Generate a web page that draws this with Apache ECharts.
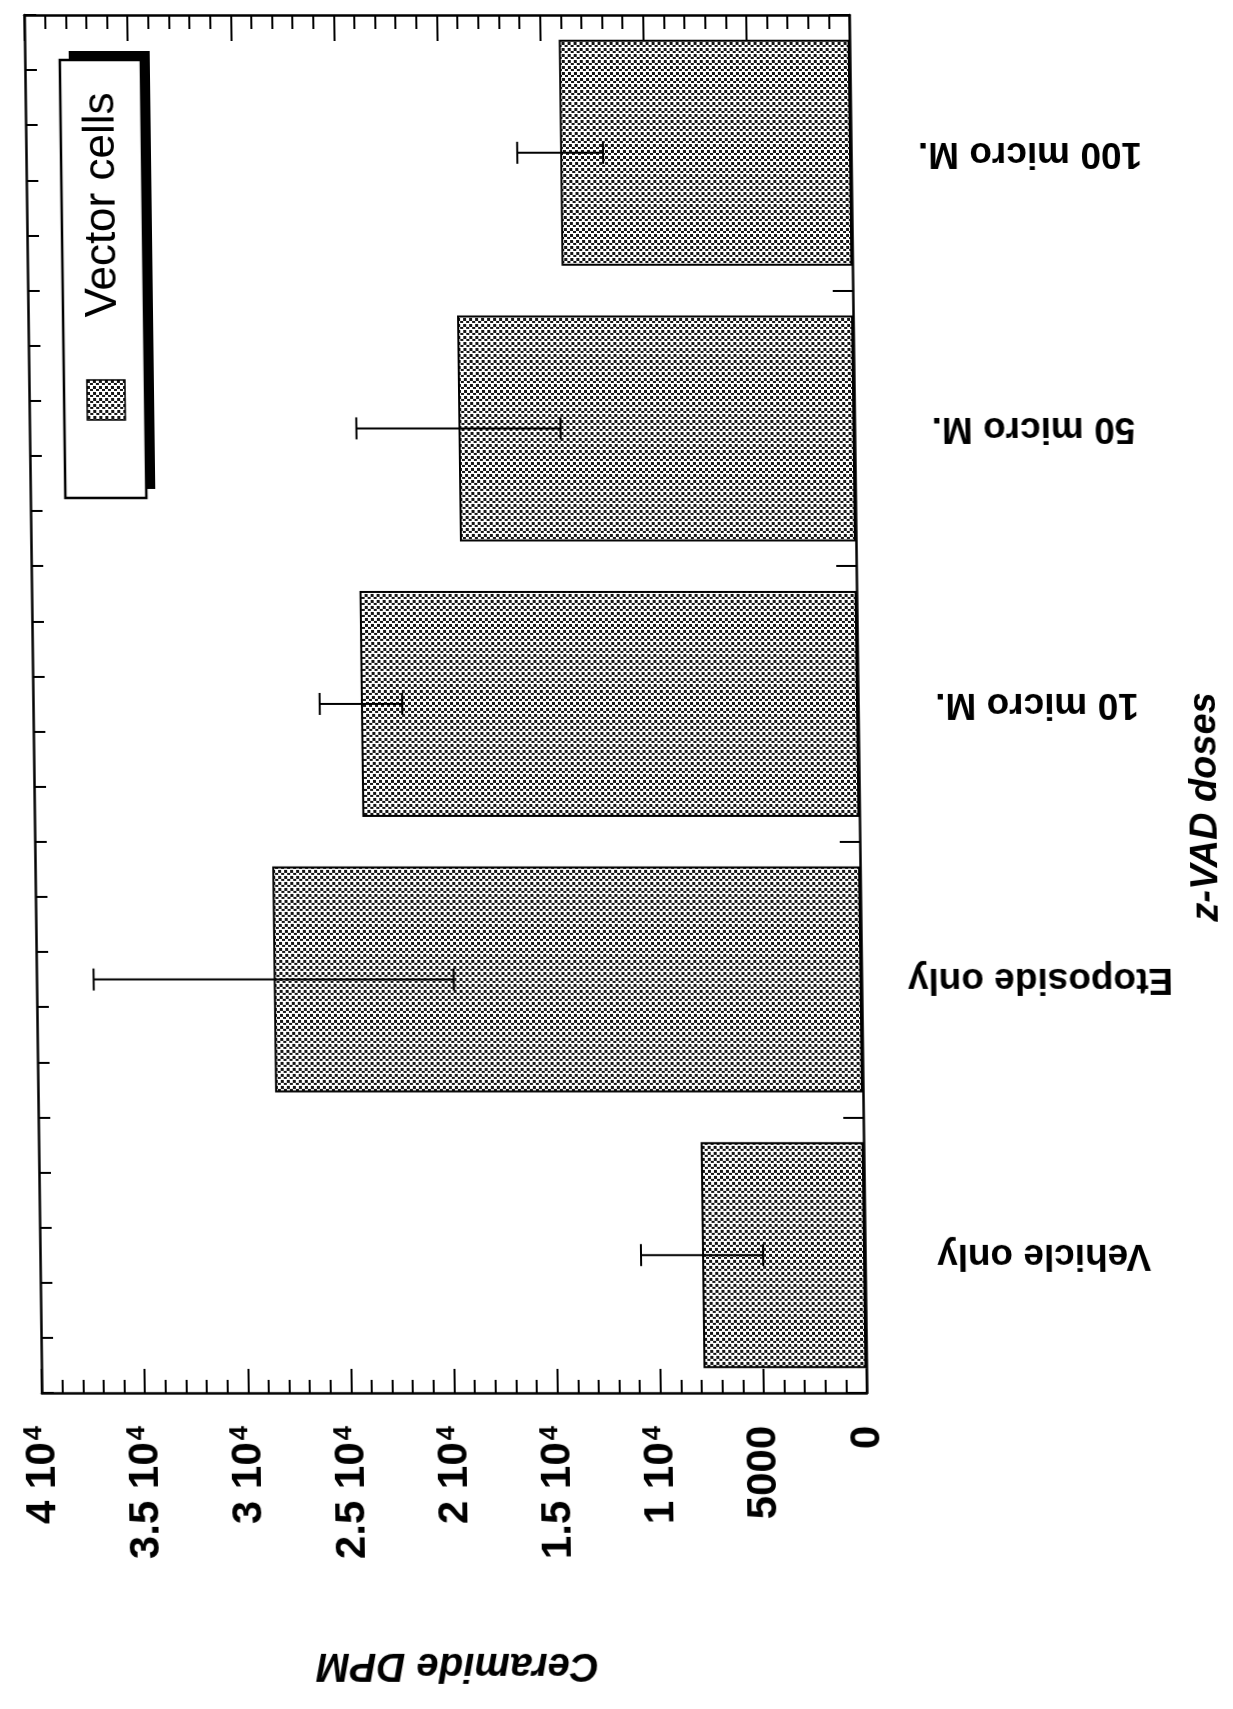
<!DOCTYPE html>
<html><head><meta charset="utf-8">
<script src="https://cdn.jsdelivr.net/npm/echarts@6/dist/echarts.min.js"></script>
<style>
html,body{margin:0;padding:0;background:#fff;}
#chart{width:1233px;height:1709px;transform:skewX(0.73deg);transform-origin:0 704px;}
</style></head>
<body><div id="chart"></div>
<script>
// ---- data ----
const categories = ['Vehicle only', 'Etoposide only', '10 micro M.', '50 micro M.', '100 micro M.'];
const ceramideDPM = [7900, 28500, 24100, 19200, 14100];
const errorDPM = [2960, 8730, 2000, 4950, 2080];
const tickValues = [0, 5000, 10000, 15000, 20000, 25000, 30000, 35000, 40000];
const tickLabels = ['0', '5000', '1 10^4', '1.5 10^4', '2 10^4', '2.5 10^4', '3 10^4', '3.5 10^4', '4 10^4'];
const seriesName = 'Vector cells';
const xTitle = 'Ceramide DPM';
const yTitle = 'z-VAD doses';

const FONT = '"Liberation Sans", Arial, Helvetica, sans-serif';

function makeTile() {
  const c = document.createElement('canvas');
  c.width = 6; c.height = 6;
  const g = c.getContext('2d');
  g.fillStyle = '#ffffff'; g.fillRect(0, 0, 6, 6);
  g.fillStyle = '#151515';
  g.fillRect(0, 0, 3, 3);
  g.fillRect(3, 3, 3, 2);
  return c;
}
const tile = makeTile();
function makeSwatch(w, h) {
  const c = document.createElement('canvas');
  c.width = w; c.height = h;
  const g = c.getContext('2d');
  g.fillStyle = g.createPattern(tile, 'repeat');
  g.fillRect(0, 0, w, h);
  return c;
}

function fmtTick(v) {
  const i = tickValues.indexOf(v);
  if (i < 0) return '';
  const t = tickLabels[i];
  const k = t.indexOf('^');
  if (k < 0) return '{n|' + t + '}';
  return '{n|' + t.slice(0, k) + '}{s|' + t.slice(k + 1) + '}';
}

const axisLineStyle = { color: '#000', width: 2.5 };
const tickLineStyle = { color: '#000', width: 2 };

const chart = echarts.init(document.getElementById('chart'), null, { renderer: 'canvas' });

const option = {
  animation: false,
  backgroundColor: '#fff',
  grid: { left: 33, top: 15, width: 825, height: 1378, containLabel: false, outerBoundsMode: 'none' },
  xAxis: [
    {
      type: 'value', position: 'bottom', inverse: true, min: 0, max: 40000, interval: 5000,
      axisLine: { show: true, onZero: false, lineStyle: axisLineStyle },
      axisTick: { show: true, inside: true, length: 24, lineStyle: tickLineStyle },
      minorTick: { show: true, splitNumber: 5, length: 13, lineStyle: tickLineStyle },
      splitLine: { show: false }, minorSplitLine: { show: false },
      axisLabel: {
        show: true, rotate: 90, margin: 33, color: '#000',
        fontSize: 42, fontWeight: 'bold', fontFamily: FONT,
        formatter: fmtTick,
        rich: {
          n: { fontSize: 42, fontWeight: 'bold', fontFamily: FONT, color: '#000' },
          s: { fontSize: 26, fontWeight: 'bold', fontFamily: FONT, color: '#000', verticalAlign: 'top', padding: [0, 0, 14, 2] }
        }
      },
      name: xTitle, nameLocation: 'middle', nameRotate: 180, nameGap: 252,
      nameTextStyle: { fontSize: 40, fontWeight: 'bold', fontStyle: 'italic', fontFamily: FONT, color: '#000' }
    },
    {
      type: 'value', position: 'top', inverse: true, min: 0, max: 40000, interval: 5000,
      axisLine: { show: true, onZero: false, lineStyle: axisLineStyle },
      axisTick: { show: true, inside: true, length: 26, lineStyle: tickLineStyle },
      minorTick: { show: true, splitNumber: 5, length: 14, lineStyle: tickLineStyle },
      splitLine: { show: false }, minorSplitLine: { show: false },
      axisLabel: { show: false }
    }
  ],
  yAxis: [
    {
      type: 'category', position: 'right', data: categories,
      axisLine: { show: true, onZero: false, lineStyle: axisLineStyle },
      axisTick: { show: true, inside: true, length: 20, lineStyle: tickLineStyle },
      splitLine: { show: false },
      axisLabel: {
        show: true, interval: 0, rotate: 180, align: 'center', verticalAlign: 'middle', margin: 179,
        fontSize: 37, fontWeight: 'bold', fontFamily: FONT, color: '#000'
      },
      name: yTitle, nameLocation: 'middle', nameRotate: 90, nameGap: 328,
      nameTextStyle: { fontSize: 38, fontWeight: 'bold', fontStyle: 'italic', fontFamily: FONT, color: '#000', padding: [0, 206, 0, 0] }
    },
    {
      type: 'value', position: 'left', min: 0, max: 25, interval: 1,
      axisLine: { show: true, onZero: false, lineStyle: axisLineStyle },
      axisTick: { show: true, inside: true, length: 12, lineStyle: tickLineStyle },
      splitLine: { show: false },
      axisLabel: { show: false }
    }
  ],
  series: [
    {
      type: 'bar', name: seriesName, xAxisIndex: 0, yAxisIndex: 0,
      data: ceramideDPM, barCategoryGap: '18%',
      itemStyle: { color: { image: tile, repeat: 'repeat' }, borderColor: '#000', borderWidth: 2 },
      z: 2
    },
    {
      type: 'custom', name: 'error', xAxisIndex: 0, yAxisIndex: 0, z: 5,
      data: categories.map((c, i) => [i, ceramideDPM[i] - errorDPM[i], ceramideDPM[i] + errorDPM[i]]),
      encode: { y: 0, x: [1, 2] },
      renderItem: function (params, api) {
        const cat = api.value(0);
        const lo = api.coord([api.value(1), cat]);
        const hi = api.coord([api.value(2), cat]);
        const h = 11;
        const st = { stroke: '#000', lineWidth: 2 };
        return {
          type: 'group',
          children: [
            { type: 'line', shape: { x1: lo[0], y1: lo[1], x2: hi[0], y2: hi[1] }, style: st },
            { type: 'line', shape: { x1: lo[0], y1: lo[1] - h, x2: lo[0], y2: lo[1] + h }, style: st },
            { type: 'line', shape: { x1: hi[0], y1: hi[1] - h, x2: hi[0], y2: hi[1] + h }, style: st }
          ]
        };
      }
    }
  ],
  graphic: [
    { type: 'rect', z: 100, shape: { x: 77, y: 51, width: 81, height: 438 }, style: { fill: '#000' } },
    { type: 'rect', z: 101, shape: { x: 68, y: 60, width: 81, height: 438 }, style: { fill: '#fff', stroke: '#000', lineWidth: 2.5 } },
    { type: 'image', z: 102, style: { image: makeSwatch(38, 40), x: 91, y: 380, width: 38, height: 40 } },
    { type: 'rect', z: 103, shape: { x: 91, y: 380, width: 38, height: 40 }, style: { fill: 'none', stroke: '#000', lineWidth: 1.5 } },
    {
      type: 'text', z: 103, x: 109, y: 205, rotation: Math.PI / 2,
      style: { text: seriesName, fontSize: 44, fontFamily: FONT, fill: '#000', align: 'center', verticalAlign: 'middle' }
    }
  ]
};
chart.setOption(option);
</script>
</body></html>
